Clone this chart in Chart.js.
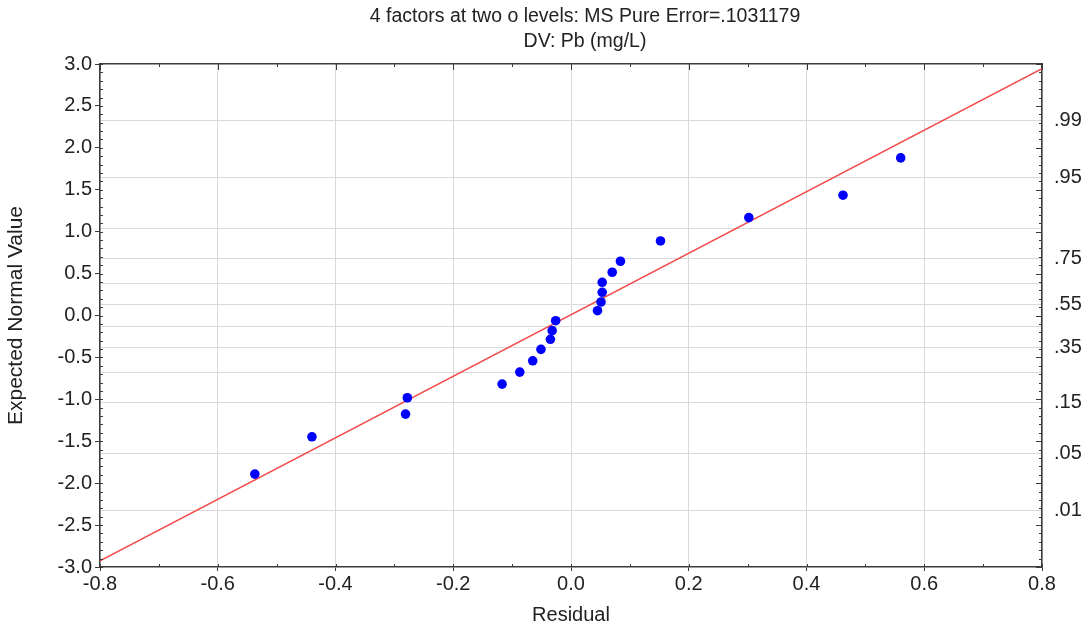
<!DOCTYPE html>
<html>
<head>
<meta charset="utf-8">
<script src="https://cdn.jsdelivr.net/npm/chart.js@4.4.1/dist/chart.umd.min.js"></script>
<style>
  html, body { margin: 0; padding: 0; background: #fff; }
  #wrap { width: 1092px; height: 629px; }
</style>
</head>
<body>
<div id="wrap"><canvas id="probPlot" width="1092" height="629"></canvas></div>
<script>
// residuals and their expected normal values
var residuals = [-0.537, -0.440, -0.281, -0.278, -0.117, -0.087, -0.065, -0.051, -0.035, -0.032, -0.026,
                 0.045, 0.051, 0.053, 0.053, 0.070, 0.084, 0.152, 0.302, 0.462, 0.560];
var expected  = [-1.892, -1.447, -1.176, -0.981, -0.818, -0.675, -0.540, -0.404, -0.284, -0.181, -0.062,
                 0.057, 0.161, 0.277, 0.396, 0.516, 0.647, 0.889, 1.168, 1.435, 1.880];

// reference line end points
var fitX = [-0.8, 0.8];
var fitY = [-2.927, 2.943];

// right axis: probability levels (grid lines) and the ones that get a label
var probLevels = [0.01, 0.05, 0.15, 0.25, 0.35, 0.45, 0.55, 0.65, 0.75, 0.85, 0.95, 0.99];
var probLabeled = [0.01, 0.05, 0.15, 0.35, 0.55, 0.75, 0.95, 0.99];

var titleLines = ['4 factors at two o levels: MS Pure Error=.1031179', 'DV: Pb (mg/L)'];

var FONT = "'Liberation Sans', Arial, sans-serif";
var TEXT = '#222';
var FRAME = '#3a3a3a';
var GRID = '#d9d9d9';

// inverse normal cdf (Acklam)
function probit(p) {
  var a = [-3.969683028665376e+01, 2.209460984245205e+02, -2.759285104469687e+02, 1.383577518672690e+02, -3.066479806614716e+01, 2.506628277459239e+00];
  var b = [-5.447609879822406e+01, 1.615858368580409e+02, -1.556989798598866e+02, 6.680131188771972e+01, -1.328068155288572e+01];
  var c = [-7.784894002430293e-03, -3.223964580411365e-01, -2.400758277161838e+00, -2.549732539343734e+00, 4.374664141464968e+00, 2.938163982698783e+00];
  var d = [7.784695709041462e-03, 3.224671290700398e-01, 2.445134137142996e+00, 3.754408661907416e+00];
  var pl = 0.02425, q, r;
  if (p < pl) {
    q = Math.sqrt(-2 * Math.log(p));
    return (((((c[0]*q+c[1])*q+c[2])*q+c[3])*q+c[4])*q+c[5]) / ((((d[0]*q+d[1])*q+d[2])*q+d[3])*q+1);
  }
  if (p > 1 - pl) {
    q = Math.sqrt(-2 * Math.log(1 - p));
    return -(((((c[0]*q+c[1])*q+c[2])*q+c[3])*q+c[4])*q+c[5]) / ((((d[0]*q+d[1])*q+d[2])*q+d[3])*q+1);
  }
  q = p - 0.5; r = q * q;
  return (((((a[0]*r+a[1])*r+a[2])*r+a[3])*r+a[4])*r+a[5])*q / (((((b[0]*r+b[1])*r+b[2])*r+b[3])*r+b[4])*r+1);
}

// two line title, centred a bit right of the plot centre like the original
var titlePlugin = {
  id: 'titleLines',
  afterDraw: function (chart) {
    var ctx = chart.ctx, area = chart.chartArea;
    var cx = (area.left + area.right) / 2 + 14;
    ctx.save();
    ctx.fillStyle = TEXT;
    ctx.font = '19.5px ' + FONT;
    ctx.textAlign = 'center';
    ctx.textBaseline = 'middle';
    ctx.fillText(titleLines[0], cx, 17);
    ctx.fillText(titleLines[1], cx, 42);
    ctx.restore();
  }
};

// small inward ticks on all four sides of the frame
var frameTicks = {
  id: 'frameTicks',
  afterDraw: function (chart) {
    var ctx = chart.ctx, area = chart.chartArea;
    var xs = chart.scales.x, ys = chart.scales.y;
    ctx.save();
    ctx.strokeStyle = FRAME;
    ctx.lineWidth = 1;
    ctx.beginPath();
    var i, v, px, len;
    for (i = 0; i <= 60; i++) {
      v = -3 + i * 0.1;
      px = Math.round(ys.getPixelForValue(v)) + 0.5;
      len = (i % 5 === 0) ? 6 : 3;
      ctx.moveTo(area.left, px); ctx.lineTo(area.left + 3, px);
      ctx.moveTo(area.right, px); ctx.lineTo(area.right - len, px);
    }
    for (i = 0; i <= 16; i++) {
      v = -0.8 + i * 0.1;
      px = Math.round(xs.getPixelForValue(v)) + 0.5;
      len = (i % 2 === 0) ? 6 : 3;
      ctx.moveTo(px, area.top); ctx.lineTo(px, area.top + len);
      ctx.moveTo(px, area.bottom); ctx.lineTo(px, area.bottom - 3);
    }
    ctx.stroke();
    ctx.restore();
  }
};

var config = {
  type: 'scatter',
  data: {
    datasets: [
      {
        label: 'Residuals',
        data: residuals.map(function (r, i) { return { x: r, y: expected[i] }; }),
        backgroundColor: '#0000ff',
        borderWidth: 0,
        pointRadius: 4.8,
        pointHoverRadius: 4.8,
        order: 1
      },
      {
        type: 'line',
        label: 'Normal line',
        data: fitX.map(function (x, i) { return { x: x, y: fitY[i] }; }),
        borderColor: '#f24848',
        borderWidth: 1.5,
        pointRadius: 0,
        fill: false,
        order: 2
      }
    ]
  },
  options: {
    responsive: false,
    animation: false,
    layout: { padding: { top: 64, left: 0, right: 0, bottom: 0 } },
    plugins: {
      legend: { display: false },
      tooltip: { enabled: false },
      title: { display: false }
    },
    scales: {
      x: {
        type: 'linear',
        position: 'bottom',
        min: -0.8, max: 0.8,
        afterFit: function (s) { s.height = 62; },
        ticks: {
          stepSize: 0.2,
          color: TEXT,
          font: { family: FONT, size: 20 },
          padding: 1,
          callback: function (v) { return v.toFixed(1); }
        },
        grid: { color: GRID, tickColor: FRAME, tickLength: 4 },
        border: { color: FRAME, width: 1.5 },
        title: {
          display: true, text: 'Residual', color: TEXT,
          font: { family: FONT, size: 20 },
          padding: { top: 0, bottom: 2 }
        }
      },
      xTop: {
        type: 'linear',
        position: 'top',
        min: -0.8, max: 0.8,
        afterFit: function (s) { s.height = 0; },
        ticks: { display: false },
        grid: { display: false, drawTicks: false },
        border: { color: FRAME, width: 1.5 }
      },
      y: {
        type: 'linear',
        position: 'left',
        min: -3, max: 3,
        afterFit: function (s) { s.width = 100; },
        ticks: {
          stepSize: 0.5,
          color: TEXT,
          font: { family: FONT, size: 20 },
          padding: 3,
          callback: function (v) { return v.toFixed(1); }
        },
        grid: { drawOnChartArea: false, tickColor: FRAME, tickLength: 5 },
        border: { color: FRAME, width: 1.5 },
        title: {
          display: true, text: 'Expected Normal Value', color: TEXT,
          font: { family: FONT, size: 21 },
          padding: { top: 4, bottom: 0 }
        }
      },
      yProb: {
        type: 'linear',
        position: 'right',
        min: -3, max: 3,
        afterFit: function (s) { s.width = 1092 - 1042; },
        afterBuildTicks: function (s) {
          s.ticks = probLevels.map(function (p) { return { value: probit(p) }; });
        },
        ticks: {
          autoSkip: false,
          color: TEXT,
          font: { family: FONT, size: 20 },
          padding: 12,
          callback: function (v, i) {
            var p = probLevels[i];
            return probLabeled.indexOf(p) >= 0 ? p.toFixed(2).replace(/^0/, '') : '';
          }
        },
        grid: { color: GRID, drawTicks: false },
        border: { color: FRAME, width: 1.5 }
      }
    }
  },
  plugins: [titlePlugin, frameTicks]
};

new Chart(document.getElementById('probPlot'), config);
</script>
</body>
</html>
